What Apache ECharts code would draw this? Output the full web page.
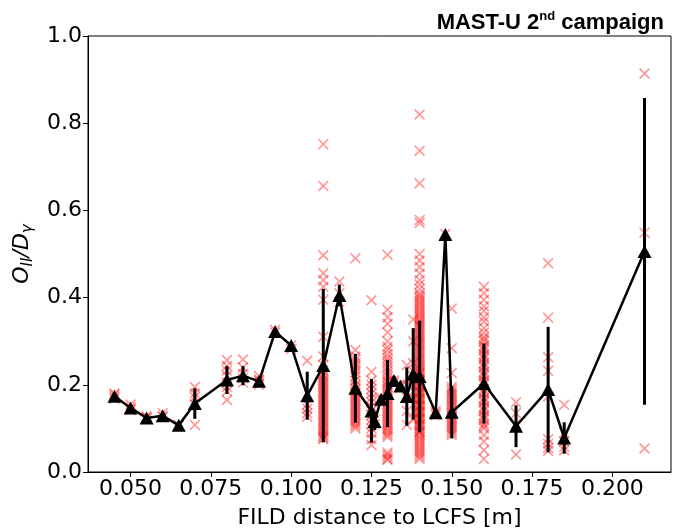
<!DOCTYPE html>
<html>
<head>
<meta charset="utf-8">
<script src="https://cdn.jsdelivr.net/npm/echarts@6/dist/echarts.min.js"></script>
<style>
html,body{margin:0;padding:0;background:#fff;}
#chart{width:673px;height:531px;}
</style>
</head>
<body>
<div id="chart"></div>
<script>
// Mean values (black line with triangles) and their error bars
const meanX = [0.045,0.05,0.055,0.06,0.065,0.07,0.08,0.085,0.09,0.095,0.1,0.105,0.11,0.115,0.12,0.125,0.126,0.128,0.13,0.132,0.134,0.136,0.138,0.14,0.145,0.148,0.15,0.16,0.17,0.18,0.185,0.21];
const meanY = [0.174,0.147,0.124,0.129,0.107,0.157,0.211,0.221,0.208,0.322,0.29,0.175,0.244,0.405,0.192,0.14,0.116,0.167,0.18,0.21,0.197,0.173,0.225,0.219,0.136,0.545,0.137,0.203,0.105,0.189,0.078,0.506];
const meanErr = [0.004,0.004,0.003,0.004,0.002,0.035,0.032,0.022,0.008,0.003,0.005,0.055,0.176,0.025,0.079,0.073,0.02,0.01,0.077,0.01,0.01,0.067,0.105,0.128,0.008,0,0.06,0.092,0.048,0.144,0.036,0.352];

// Individual measurements (red crosses), grouped by distance
const groupX = [0.045,0.05,0.055,0.06,0.065,0.07,0.08,0.085,0.09,0.095,0.1,0.105,0.11,0.115,0.12,0.125,0.126,0.128,0.13,0.132,0.134,0.136,0.138,0.14,0.145,0.148,0.15,0.16,0.17,0.18,0.185,0.21];
const groupY = [
  [0.18,0.172,0.168,0.177],
  [0.155,0.148,0.142,0.145],
  [0.128,0.122,0.125],
  [0.135,0.128,0.126],
  [0.108,0.106],
  [0.195,0.18,0.172,0.155,0.108],
  [0.257,0.243,0.233,0.22,0.205,0.195,0.185,0.165],
  [0.258,0.24,0.225,0.215,0.205],
  [0.22,0.212,0.205,0.2,0.21],
  [0.326,0.32],
  [0.29,0.282],
  [0.255,0.155,0.145,0.135,0.127],
  [0.752,0.656,0.497,0.456,0.44,0.425,0.395,0.31,0.265,0.245,0.232,0.22,0.21,0.2,0.19,0.18,0.17,0.16,0.15,0.14,0.13,0.12,0.11,0.1,0.09,0.082,0.075,
   0.225,0.215,0.205,0.195,0.185,0.175,0.165,0.155,0.145,0.135,0.125,0.115,0.105,0.095,0.085,0.078],
  [0.437,0.41,0.39],
  [0.49,0.28,0.265,0.25,0.235,0.22,0.2,0.19,0.18,0.17,0.16,0.15,0.14,0.13,0.12,0.11,0.1,
   0.258,0.243,0.228,0.21,0.195,0.185,0.175,0.165,0.155,0.145,0.135,0.125,0.115,0.105],
  [0.394,0.23,0.21,0.19,0.17,0.15,0.13,0.11,0.09,0.075,0.062,0.2,0.18,0.16,0.14,0.12,0.1],
  [0.12,0.11],
  [0.17,0.165],
  [0.498,0.372,0.355,0.34,0.32,0.3,0.287,0.27,0.255,0.24,0.225,0.21,0.2,0.19,0.18,0.17,0.16,0.15,0.14,0.13,0.12,0.11,0.1,0.09,0.08,0.045,0.035,0.028,
   0.28,0.262,0.248,0.232,0.218,0.205,0.195,0.185,0.175,0.165,0.155,0.145,0.135,0.125,0.115,0.105,0.095,0.085,0.04,0.03],
  [0.21,0.205],
  [0.2,0.195],
  [0.245,0.2,0.17,0.14,0.108],
  [0.35,0.3,0.25,0.22,0.2,0.17,0.12],
  [0.82,0.737,0.662,0.578,0.571,0.5,0.485,0.47,0.455,0.44,0.43,0.42,0.41,0.4,0.39,0.38,0.37,0.36,0.35,0.34,0.33,0.32,0.31,0.3,0.29,0.28,0.27,0.26,0.25,0.24,0.23,0.22,0.21,0.2,0.19,0.18,0.17,0.16,0.15,0.14,0.13,0.12,0.11,0.1,0.09,0.08,0.07,0.06,0.05,0.04,0.03,
   0.405,0.395,0.385,0.375,0.365,0.355,0.345,0.335,0.325,0.315,0.305,0.295,0.285,0.275,0.265,0.255,0.245,0.235,0.225,0.215,0.205,0.195,0.185,0.175,0.165,0.155,0.145,0.135,0.125,0.115,0.105,0.095,0.085,
   0.075,0.065,0.055,0.045,0.035,0.228,0.212,0.198,0.182,0.168,0.152,0.138,0.122,0.108,0.092],
  [0.14,0.135,0.13],
  [0.546],
  [0.375,0.284,0.227,0.195,0.185,0.175,0.165,0.155,0.145,0.135,0.125,0.115,0.105,0.095,0.085,
   0.19,0.18,0.17,0.16,0.15,0.14,0.13,0.12,0.11,0.1,0.09],
  [0.425,0.41,0.395,0.38,0.37,0.355,0.345,0.33,0.32,0.31,0.3,0.29,0.28,0.27,0.26,0.25,0.24,0.23,0.22,0.21,0.2,0.19,0.18,0.17,0.16,0.15,0.14,0.13,0.12,0.11,0.1,0.085,0.07,0.05,0.03,
   0.305,0.285,0.265,0.245,0.225,0.205,0.185,0.165,0.145,0.125,0.105],
  [0.16,0.135,0.11,0.04],
  [0.479,0.354,0.263,0.232,0.173,0.075,0.065,0.055,0.048],
  [0.154,0.09,0.07,0.058,0.05],
  [0.914,0.549,0.054]
];

const xTicks = [0.05,0.075,0.1,0.125,0.15,0.175,0.2];

const scatterData = [];
groupX.forEach((x, i) => groupY[i].forEach(y => scatterData.push([x, y])));
const lineData = meanX.map((x, i) => [x, meanY[i]]);
const errData = meanX.map((x, i) => [x, meanY[i] - meanErr[i], meanY[i] + meanErr[i]]);

const FONT = 'DejaVu Sans';
const crossPath = 'path://M0,1.1L1.1,0L5,3.9L8.9,0L10,1.1L6.1,5L10,8.9L8.9,10L5,6.1L1.1,10L0,8.9L3.9,5Z';

const chart = echarts.init(document.getElementById('chart'), null, {renderer: 'canvas'});
chart.setOption({
  backgroundColor: '#fff',
  animation: false,
  title: {
    text: '{b|MAST-U 2}{s|nd}{b| campaign}',
    right: 4,
    top: 5,
    textStyle: {
      rich: {
        b: {fontFamily: 'Liberation Sans', fontWeight: 'bold', fontSize: 22, color: '#000', lineHeight: 25},
        s: {fontFamily: 'Liberation Sans', fontWeight: 'bold', fontSize: 13, color: '#000', lineHeight: 13, verticalAlign: 'top'}
      }
    }
  },
  grid: {left: 88, right: 2, top: 36, bottom: 59, outerBoundsMode: 'none', containLabel: false, show: true, borderColor: '#000', borderWidth: 1, backgroundColor: 'transparent'},
  xAxis: {
    type: 'value',
    min: 0.03675,
    max: 0.21825,
    name: 'FILD distance to LCFS [m]',
    nameLocation: 'middle',
    nameGap: 35,
    nameTextStyle: {fontFamily: FONT, fontSize: 22, color: '#000'},
    axisLine: {show: true, lineStyle: {color: '#000', width: 1}},
    axisTick: {show: true, length: 5, customValues: xTicks, lineStyle: {color: '#000'}},
    axisLabel: {customValues: xTicks, fontFamily: FONT, fontSize: 22, color: '#000', margin: 6, formatter: v => v.toFixed(3)},
    splitLine: {show: false}
  },
  yAxis: {
    type: 'value',
    min: 0,
    max: 1,
    interval: 0.2,
    name: '{i|O}{sub|II}{i|/D}{sub|γ}',
    nameLocation: 'middle',
    nameRotate: 90,
    nameGap: 52,
    nameTextStyle: {
      rich: {
        i: {fontFamily: FONT, fontStyle: 'italic', fontSize: 22, color: '#000', lineHeight: 28},
        sub: {fontFamily: FONT, fontStyle: 'italic', fontSize: 15, color: '#000', lineHeight: 15, verticalAlign: 'bottom'}
      }
    },
    axisLine: {show: true, lineStyle: {color: '#000', width: 1}},
    axisTick: {show: true, length: 5, lineStyle: {color: '#000'}},
    axisLabel: {fontFamily: FONT, fontSize: 22, color: '#000', margin: 6, formatter: v => v.toFixed(1)},
    splitLine: {show: false}
  },
  series: [
    {
      type: 'scatter',
      data: scatterData,
      symbol: crossPath,
      symbolSize: 11,
      itemStyle: {color: 'rgba(255,0,0,0.5)'},
      z: 1
    },
    {
      type: 'custom',
      data: errData,
      renderItem: (params, api) => {
        const x = api.value(0);
        const p1 = api.coord([x, api.value(1)]);
        const p2 = api.coord([x, api.value(2)]);
        return {type: 'line', shape: {x1: p1[0], y1: p1[1], x2: p2[0], y2: p2[1]}, style: {stroke: '#000', lineWidth: 3}};
      },
      z: 2
    },
    {
      type: 'line',
      data: lineData,
      symbol: 'triangle',
      symbolSize: [14, 13],
      itemStyle: {color: '#000'},
      lineStyle: {color: '#000', width: 2.5},
      z: 3
    }
  ]
});
</script>
</body>
</html>
